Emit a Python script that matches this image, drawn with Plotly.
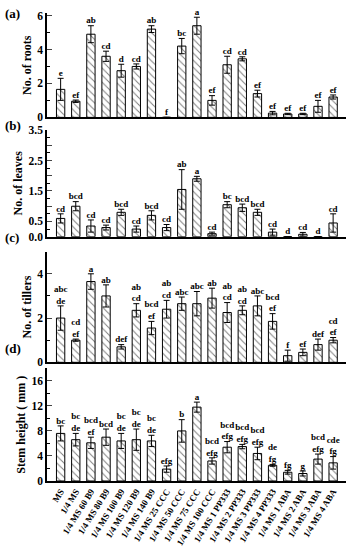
import plotly.graph_objects as go
from plotly.subplots import make_subplots

categories = ["MS", "1/4 MS", "1/4 MS 60 B9", "1/4 MS 80 B9", "1/4 MS 100 B9", "1/4 MS 120 B9",
              "1/4 MS 140 B9", "1/4 MS 25 CCC", "1/4 MS 50 CCC", "1/4 MS 75 CCC", "1/4 MS 100 CCC",
              "1/4 MS 1 PP333", "1/4 MS 2 PP333", "1/4 MS 3 PP333", "1/4 MS 4 PP333",
              "1/4 MS 1 ABA", "1/4 MS 2 ABA", "1/4 MS 3 ABA", "1/4 MS 4 ABA"]

roots = [1.65, 0.95, 4.9, 3.6, 2.75, 3.0, 5.2, 0.0, 4.2, 5.4, 1.0, 3.1, 3.45, 1.4, 0.25, 0.2, 0.2, 0.65, 1.2]
roots_err = [0.65, 0.07, 0.5, 0.3, 0.38, 0.15, 0.2, 0.0, 0.45, 0.5, 0.28, 0.5, 0.12, 0.2, 0.1, 0.04, 0.04, 0.35, 0.12]
roots_lbl = ["e", "ef", "ab", "cd", "d", "cd", "ab", "f", "bc", "a", "ef", "cd", "cd", "ef", "ef", "ef", "ef", "ef", "ef"]

leaves = [0.6, 1.0, 0.35, 0.3, 0.8, 0.25, 0.7, 0.3, 1.55, 1.9, 0.1, 1.05, 0.95, 0.8, 0.15, 0.0, 0.08, 0.0, 0.45]
leaves_err = [0.15, 0.15, 0.2, 0.08, 0.1, 0.1, 0.15, 0.1, 0.65, 0.08, 0.05, 0.1, 0.12, 0.1, 0.1, 0.0, 0.06, 0.0, 0.3]
leaves_lbl = ["cd", "bcd", "cd", "cd", "bcd", "cd", "bcd", "cd", "ab", "a", "cd", "bc", "bcd", "bcd", "cd", "d", "cd", "d", "cd"]

tillers = [2.0, 1.0, 3.65, 3.0, 0.7, 2.35, 1.55, 2.4, 2.65, 2.65, 2.9, 2.25, 2.35, 2.55, 1.85, 0.3, 0.45, 0.8, 1.0]
tillers_err = [0.55, 0.05, 0.35, 0.5, 0.1, 0.3, 0.3, 0.4, 0.3, 0.55, 0.45, 0.45, 0.2, 0.45, 0.35, 0.25, 0.15, 0.25, 0.12]
tillers_lbl = ["abc<br>de", "cd<br>ef", "a", "ab", "def", "ab<br>cd", "bcd<br>ef", "ab<br>cd", "abc", "abc", "ab",
               "ab<br>cd", "ab<br>cd", "abc", "bcd<br>ef", "f", "ef", "def", "cd<br>ef"]

stem = [7.6, 6.6, 6.1, 7.0, 6.4, 6.6, 6.4, 1.9, 8.0, 11.8, 3.2, 5.4, 5.5, 4.4, 2.5, 1.4, 1.2, 3.5, 2.9]
stem_err = [1.2, 1.0, 0.9, 1.3, 1.2, 1.7, 0.9, 0.5, 1.8, 0.8, 0.5, 0.9, 0.35, 1.0, 0.15, 0.3, 0.4, 0.8, 1.0]
stem_lbl = ["bc", "bc<br>de", "bcd<br>ef", "bcd", "bc<br>de", "bc<br>de", "bc<br>de", "efg", "b", "a", "bcd<br>efg",
            "bcd<br>efg", "bcd<br>efg", "bcd<br>efg", "de<br>fg", "fg", "g", "bcd<br>efg", "cde<br>fg"]

panels = [
    (roots, roots_err, roots_lbl, "No. of roots", [0, 6.15], [0, 2, 4, 6], ["0", "2", "4", "6"], 1, "(a)"),
    (leaves, leaves_err, leaves_lbl, "No. of leaves", [0, 3.5], [0, 0.5, 1.0, 1.5, 2.0, 2.5, 3.0, 3.5],
     ["0.0", "0.5", "", "1.5", "", "2.5", "", "3.5"], 0.25, "(b)"),
    (tillers, tillers_err, tillers_lbl, "No. of tillers", [0, 5], [0, 2, 4], ["0", "2", "4"], 1, "(c)"),
    (stem, stem_err, stem_lbl, "Stem height ( mm )", [0, 18], [0, 4, 8, 12, 16], ["0", "4", "8", "12", "16"], 2, "(d)"),
]

domains = [[0.777, 1.0], [0.522, 0.75], [0.2536, 0.49], [0.0, 0.2408]]
label_y = [14, 125, 238, 348]

FONT = "Liberation Serif"
fig = make_subplots(rows=4, cols=1, shared_xaxes=True, vertical_spacing=0.02)

for i, (vals, errs, lbls, title, yr, tv, tt, mdt, plab) in enumerate(panels):
    r = i + 1
    fig.add_trace(go.Bar(
        x=categories, y=vals, width=0.55,
        marker=dict(color="white", line=dict(color="black", width=1),
                    pattern=dict(shape="\\", fgcolor="black", bgcolor="white", size=5, solidity=0.2)),
        error_y=dict(type="data", array=errs, visible=True, color="black", thickness=1, width=3),
        showlegend=False), row=r, col=1)
    fig.add_trace(go.Scatter(
        x=categories, y=[v + e for v, e in zip(vals, errs)], mode="text", text=lbls,
        textposition="top center", cliponaxis=False,
        textfont=dict(family=FONT, size=9, color="black", weight="bold"),
        showlegend=False), row=r, col=1)
    yax = "yaxis" if r == 1 else f"yaxis{r}"
    fig.layout[yax].update(
        domain=domains[i], range=yr, tickvals=tv, ticktext=tt, ticks="inside", ticklen=5,
        showline=True, linecolor="black", linewidth=1.5, showgrid=False, zeroline=False,
        automargin=False,
        tickfont=dict(family=FONT, size=11.5, color="black", weight="bold"),
        minor=dict(dtick=mdt, ticks="inside", ticklen=3, tickcolor="black"),
        title=dict(text=title, font=dict(family=FONT, size=12, color="black", weight="bold"), standoff=3))
    xax = "xaxis" if r == 1 else f"xaxis{r}"
    fig.layout[xax].update(
        range=[-0.9, 18.85], showline=True, linecolor="black", linewidth=1.5, showgrid=False,
        ticks="", tickangle=-58, automargin=False,
        tickfont=dict(family=FONT, size=9, color="black", weight="bold"),
        showticklabels=(r == 4))
    fig.add_annotation(xref="paper", yref="paper", x=(3 - 47) / 299, y=(481 - label_y[i]) / 468,
                       xanchor="left", yanchor="middle", text=plab, showarrow=False,
                       font=dict(family=FONT, size=13, color="black", weight="bold"))

fig.update_layout(width=350, height=550, margin=dict(l=47, r=4, t=13, b=69, autoexpand=False),
                  plot_bgcolor="white", paper_bgcolor="white", bargap=0.4)
fig.write_html("out.html", config={"displayModeBar": False},
               post_script="document.body.style.margin='0';document.body.style.overflow='hidden';")
